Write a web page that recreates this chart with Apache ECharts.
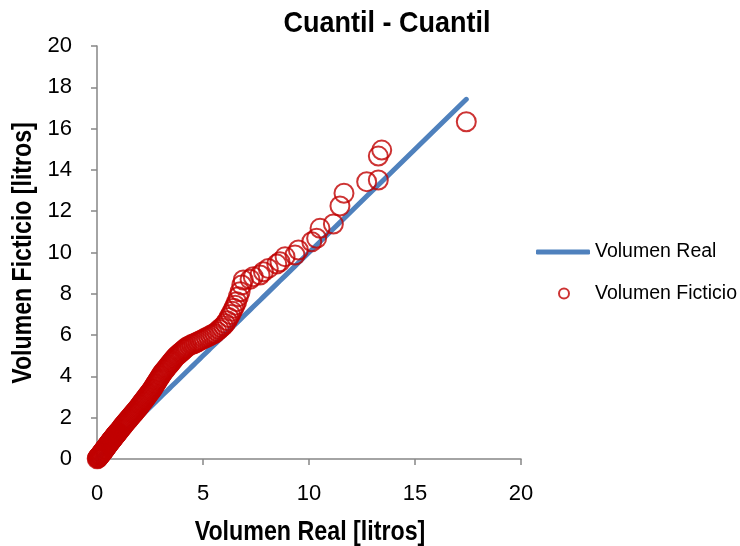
<!DOCTYPE html>
<html>
<head>
<meta charset="utf-8">
<script src="https://cdn.jsdelivr.net/npm/echarts@6/dist/echarts.min.js"></script>
<style>
  html, body { margin: 0; padding: 0; background: #fff; }
  #chart { width: 740px; height: 546px; }
</style>
</head>
<body>
<div id="chart"></div>
<script>
// Sorted quantiles of the real volume (litros)
const realQ = [
  0.01, 0.03, 0.05, 0.07, 0.09, 0.11, 0.13, 0.15, 0.17, 0.19,
  0.21, 0.23, 0.25, 0.27, 0.29, 0.31, 0.33, 0.35, 0.37, 0.39,
  0.41, 0.43, 0.45, 0.47, 0.49, 0.51, 0.53, 0.55, 0.57, 0.59,
  0.61, 0.63, 0.65, 0.67, 0.69, 0.71, 0.73, 0.75, 0.77, 0.79,
  0.81, 0.83, 0.85, 0.87, 0.89, 0.91, 0.93, 0.95, 0.97, 0.99,
  1.03, 1.07, 1.11, 1.15, 1.19, 1.23, 1.27, 1.31, 1.35, 1.39,
  1.43, 1.47, 1.51, 1.55, 1.59, 1.63, 1.67, 1.71, 1.75, 1.79,
  1.83, 1.87, 1.91, 1.95, 1.99, 2.03, 2.07, 2.11, 2.15, 2.19,
  2.23, 2.27, 2.31, 2.35, 2.39, 2.43, 2.47, 2.51, 2.55, 2.59,
  2.63, 2.67, 2.71, 2.75, 2.79, 2.83, 2.87, 2.91, 2.95, 2.99,
  3.03, 3.07, 3.12, 3.17, 3.22, 3.27, 3.32, 3.37, 3.42, 3.47,
  3.52, 3.57, 3.62, 3.67, 3.72, 3.78, 3.84, 3.90, 3.96, 4.02,
  4.08, 4.14, 4.20, 4.26, 4.36, 4.46, 4.56, 4.66, 4.76, 4.86,
  4.96, 5.06, 5.16, 5.26, 5.36, 5.46, 5.56, 5.66, 5.76, 5.86,
  5.96, 6.05, 6.14, 6.22, 6.30, 6.38, 6.45, 6.52, 6.59, 6.67,
  6.75, 6.83, 6.90, 7.22, 7.37, 7.69, 7.85, 8.08, 8.48, 8.63,
  8.87, 9.34, 9.50, 10.13, 10.36, 10.52, 11.15, 11.46, 11.65, 12.72,
  13.27, 13.27, 13.43, 17.42
];

// Sorted quantiles of the simulated ("ficticio") volume (litros)
const fictQ = [
  0.01, 0.04, 0.06, 0.09, 0.11, 0.14, 0.16, 0.19, 0.21, 0.24,
  0.27, 0.29, 0.32, 0.35, 0.38, 0.40, 0.43, 0.46, 0.49, 0.51,
  0.54, 0.57, 0.60, 0.62, 0.65, 0.68, 0.71, 0.73, 0.76, 0.79,
  0.81, 0.84, 0.87, 0.89, 0.92, 0.95, 0.97, 1.00, 1.02, 1.05,
  1.07, 1.10, 1.13, 1.15, 1.18, 1.20, 1.23, 1.25, 1.28, 1.30,
  1.35, 1.40, 1.45, 1.50, 1.56, 1.61, 1.66, 1.71, 1.76, 1.81,
  1.86, 1.91, 1.95, 2.00, 2.05, 2.10, 2.15, 2.20, 2.24, 2.29,
  2.34, 2.39, 2.44, 2.49, 2.54, 2.60, 2.65, 2.71, 2.76, 2.81,
  2.87, 2.92, 2.98, 3.03, 3.09, 3.14, 3.19, 3.25, 3.30, 3.36,
  3.42, 3.49, 3.55, 3.62, 3.68, 3.75, 3.81, 3.88, 3.94, 4.01,
  4.07, 4.14, 4.20, 4.27, 4.33, 4.39, 4.46, 4.52, 4.58, 4.65,
  4.71, 4.77, 4.84, 4.90, 4.96, 5.01, 5.06, 5.12, 5.17, 5.22,
  5.28, 5.33, 5.38, 5.44, 5.49, 5.54, 5.58, 5.63, 5.68, 5.73,
  5.78, 5.83, 5.88, 5.93, 5.99, 6.04, 6.09, 6.18, 6.27, 6.36,
  6.45, 6.56, 6.70, 6.85, 7.00, 7.15, 7.30, 7.45, 7.62, 7.86,
  8.10, 8.43, 8.67, 8.70, 8.83, 8.91, 9.07, 9.23, 9.44, 9.55,
  9.80, 9.88, 10.12, 10.52, 10.69, 11.17, 11.38, 12.25, 12.87, 13.43,
  13.51, 14.67, 14.96, 16.33
];

const xTicks = { min: 0, max: 20, step: 5 };
const yTicks = { min: 0, max: 20, step: 2 };

const titleText = 'Cuantil - Cuantil';
const xName = 'Volumen Real [litros]';
const yName = 'Volumen Ficticio [litros]';

const FONT = "'Liberation Sans', Arial, sans-serif";
const AXIS_GRAY = '#868686';

const realLine = realQ.map(v => [v, v]);
const qqPoints = realQ.map((v, i) => [v, fictQ[i]]);

const chart = echarts.init(document.getElementById('chart'), null, { renderer: 'canvas' });

const axisCommon = {
  type: 'value',
  axisLine: { show: true, lineStyle: { color: AXIS_GRAY, width: 1.5 } },
  axisTick: { show: true, inside: false, length: 6, lineStyle: { color: AXIS_GRAY, width: 1.5 } },
  splitLine: { show: false }
};

// Condensed bold headings (title and axis names)
function heading(text, x, y, size, sx, rot) {
  return {
    type: 'text',
    x: x, y: y,
    scaleX: sx,
    rotation: rot || 0,
    silent: true,
    style: {
      text: text,
      fontFamily: FONT,
      fontWeight: 'bold',
      fontSize: size,
      fill: '#000',
      align: 'center',
      verticalAlign: 'middle'
    }
  };
}

chart.setOption({
  animation: false,
  backgroundColor: '#fff',
  graphic: [
    heading(titleText, 387, 24, 30, 0.9),
    heading(xName, 310, 532, 28, 0.83),
    heading(yName, 23, 253, 28, 0.825, Math.PI / 2)
  ],
  grid: { left: 97, right: 219, top: 46, bottom: 87, containLabel: false },
  legend: [
    {
      data: [{ name: 'Volumen Real', icon: 'roundRect' }],
      left: 536,
      top: 242,
      padding: 0,
      itemWidth: 54,
      itemHeight: 5,
      textStyle: { fontFamily: FONT, fontSize: 19.5, color: '#000' }
    },
    {
      data: [{ name: 'Volumen Ficticio', icon: 'circle' }],
      left: 558,
      top: 283.5,
      padding: 0,
      itemWidth: 10,
      itemHeight: 10,
      textStyle: { fontFamily: FONT, fontSize: 19.5, color: '#000', padding: [0, 0, 0, 21] }
    }
  ],
  xAxis: Object.assign({}, axisCommon, {
    min: xTicks.min, max: xTicks.max, interval: xTicks.step,
    axisLabel: { fontFamily: FONT, fontSize: 22, color: '#000', margin: 24 }
  }),
  yAxis: Object.assign({}, axisCommon, {
    min: yTicks.min, max: yTicks.max, interval: yTicks.step,
    axisLabel: { fontFamily: FONT, fontSize: 22, color: '#000', margin: 25 }
  }),
  series: [
    {
      name: 'Volumen Real',
      type: 'line',
      data: realLine,
      showSymbol: false,
      symbol: 'none',
      itemStyle: { color: '#4F81BD' },
      lineStyle: { color: '#4F81BD', width: 5, cap: 'round' },
      z: 2
    },
    {
      name: 'Volumen Ficticio',
      type: 'scatter',
      data: qqPoints,
      symbol: 'circle',
      symbolSize: 19,
      itemStyle: { color: 'rgba(0,0,0,0)', borderColor: '#C00000', borderWidth: 2 },
      z: 3
    }
  ]
});
</script>
</body>
</html>
